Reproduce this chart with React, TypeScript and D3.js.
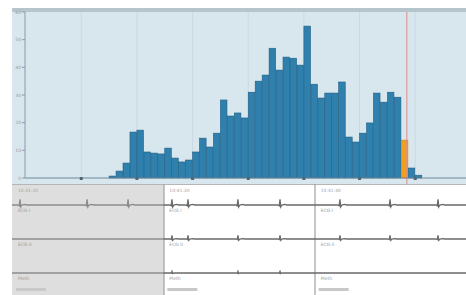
import * as d3 from "d3";

// histogram bins (count per bin)
const binCounts = [
  0.7, 2.5, 5.4, 16.6, 17.3, 9.4, 9.0, 8.7, 10.8, 7.2,
  5.8, 6.5, 9.4, 14.4, 11.2, 16.2, 28.2, 22.4, 23.5, 21.7,
  31.0, 35.0, 37.2, 46.9, 39.0, 43.7, 43.3, 40.8, 54.9, 33.9,
  28.9, 30.7, 30.7, 34.7, 14.8, 13.0, 16.2, 19.9, 30.7, 27.4,
  31.0, 29.2, 13.7, 3.6, 1.0,
];
const currentBin = 42;
const markerPos = 42.8;
const gridBins = [-4, 4, 12, 20, 28, 36, 44];
const yTicks = [0, 10, 20, 30, 40, 50, 60];

// strip chart rows
const rowLabels = ["ECG I", "ECG II", "Pleth"];
const rowBeats = [
  [0.53, 4.96, 7.67, 10.57, 11.63, 14.93, 17.71, 21.67, 24.98, 28.15],
  [10.57, 11.63, 14.93, 17.71, 21.67, 24.98, 28.15],
  [10.57, 14.93, 17.71],
];
const rowAmps = [0.7, 0.45, 0.2];
const pageTimes = ["10:41:20", "10:41:30", "10:41:40"];
const pageStarts = [0, 10, 20];
const spikeShape: [number, number][] = [
  [-0.14, 0], [-0.05, -0.15], [0, 1], [0.05, -0.35], [0.13, 0], [0.3, 0.1], [0.45, 0],
];

export default function App() {
  const W = 466, H = 295;
  const left = 12, axisX = 25;
  const top = 8, plotTop = 12, base = 178, histBottom = 184;

  const x = d3.scaleLinear().domain([-11.8, 51.3]).range([27, 466]);
  const y = d3.scaleLinear().domain([0, 60]).range([base, plotTop]);
  const bw = x(1) - x(0);

  const t = d3.scaleLinear().domain([0, 30]).range([left, W]);
  const rowBase = [205, 239, 273];

  const tracePath = (beats: number[], amp: number, yb: number, from: number, to: number) => {
    const ya = d3.scaleLinear().domain([-1, 1]).range([yb + 8 * amp, yb - 8 * amp]);
    const pts: [number, number][] = [[from, 0]];
    beats.filter(b => b >= from && b <= to).forEach(b => {
      spikeShape.forEach(([dt, v]) => pts.push([b + dt, v]));
    });
    pts.push([to, 0]);
    return d3.line<[number, number]>().x(d => t(d[0])).y(d => ya(d[1]))(pts) || "";
  };

  return (
    <svg width={W} height={H} style={{ position: "fixed", left: 0, top: 0, background: "white" }}
      fontFamily="DejaVu Sans, sans-serif">
      {/* histogram panel */}
      <rect x={left} y={top} width={W - left} height={histBottom - top} fill="#d8e6ee" />
      <rect x={left} y={top} width={W - left} height={4} fill="#b6c4cc" />
      {gridBins.map(g => (
        <line key={g} x1={x(g)} x2={x(g)} y1={plotTop} y2={base} stroke="#cadae3" strokeWidth={1} />
      ))}
      {binCounts.map((v, i) => (
        <rect key={i} x={x(i)} y={y(v)} width={bw - 0.4} height={base - y(v)}
          fill={i === currentBin ? "#f0a01e" : "#2f80ad"}
          stroke={i === currentBin ? "#d88a10" : "#1f5e84"} strokeWidth={0.6} />
      ))}
      <line x1={x(markerPos)} x2={x(markerPos)} y1={plotTop} y2={histBottom} stroke="#e08a8a" strokeWidth={1} />

      {/* y axis */}
      <line x1={axisX} x2={axisX} y1={plotTop} y2={base} stroke="#8a9ba6" />
      {yTicks.map(v => (
        <g key={v}>
          <line x1={axisX - 3} x2={axisX} y1={y(v)} y2={y(v)} stroke="#8a9ba6" />
          <text x={axisX - 4} y={y(v)} dy="0.35em" fontSize={4.5} textAnchor="end" fill="#8d9ea9">{v}</text>
        </g>
      ))}
      {/* x axis */}
      <line x1={axisX} x2={W} y1={base} y2={base} stroke="#6f8a9b" strokeWidth={1.2} />
      {gridBins.map(g => (
        <rect key={g} x={x(g) - 1.5} y={base - 1} width={3} height={3} fill="#4f6675" />
      ))}

      {/* strip chart */}
      <rect x={left} y={histBottom} width={164 - left} height={H - histBottom} fill="#dedede" />
      <line x1={left} x2={W} y1={histBottom + 0.5} y2={histBottom + 0.5} stroke="#b5b5b5" />
      {[164, 315].map(px => (
        <line key={px} x1={px} x2={px} y1={histBottom} y2={H} stroke="#a0a0a0" strokeWidth={1.2} />
      ))}
      {rowBase.map((yb, r) => (
        <g key={r}>
          <path d={tracePath(rowBeats[r], rowAmps[r], yb, 0, 10)} fill="none" stroke="#8c8c8c" strokeWidth={1.3} />
          <path d={tracePath(rowBeats[r], rowAmps[r], yb, 10, 30)} fill="none" stroke="#6a6a6a" strokeWidth={1.3} />
          {pageStarts.map(p => (
            <text key={p} x={t(p) + 6} y={yb + 7} fontSize={4.5} fill="#9a9a9a">{rowLabels[r]}</text>
          ))}
        </g>
      ))}
      {pageStarts.map((p, i) => (
        <g key={p}>
          <text x={t(p) + 6} y={192} fontSize={4.5} fill="#a5a5a5">{pageTimes[i]}</text>
          <rect x={t(p) + 4} y={288} width={30} height={3} fill="#c8c8c8" />
        </g>
      ))}
    </svg>
  );
}
